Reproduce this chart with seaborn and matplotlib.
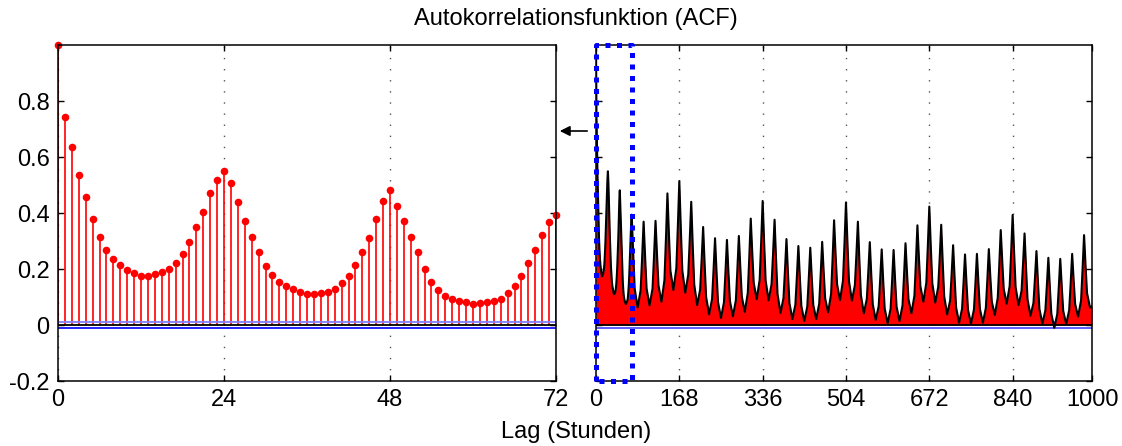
import numpy as np
import pandas as pd
import matplotlib
matplotlib.use("Agg")
import matplotlib.pyplot as plt
import seaborn as sns

# ---------------- data ----------------
title_text = "Autokorrelationsfunktion (ACF)"
xlabel_text = "Lag (Stunden)"

# ACF at hourly lags 0..72 (left panel, stem plot)
lags_short = list(range(73))
acf_short = [1.000, 0.742, 0.635, 0.537, 0.458, 0.377, 0.313, 0.269, 0.236, 0.214,
             0.198, 0.186, 0.174, 0.175, 0.183, 0.188, 0.199, 0.221, 0.254, 0.296,
             0.350, 0.403, 0.470, 0.518, 0.549, 0.508, 0.440, 0.372, 0.313, 0.262,
             0.212, 0.180, 0.155, 0.139, 0.129, 0.119, 0.110, 0.111, 0.113, 0.119,
             0.129, 0.149, 0.176, 0.214, 0.261, 0.312, 0.379, 0.443, 0.481, 0.426,
             0.371, 0.315, 0.260, 0.199, 0.155, 0.126, 0.104, 0.093, 0.086, 0.081,
             0.075, 0.079, 0.081, 0.086, 0.093, 0.113, 0.139, 0.175, 0.220, 0.268,
             0.320, 0.367, 0.394]

# ACF beyond lag 72 (right panel, continuous curve) read at peaks, flanks and troughs
lags_long = [75, 78, 84,
             90, 93, 96, 99, 102, 108,
             114, 117, 120, 123, 126, 132,
             138, 141, 144, 147, 150, 156,
             162, 165, 168, 171, 174, 180,
             186, 189, 192, 195, 198, 204,
             210, 213, 216, 219, 222, 228,
             234, 237, 240, 243, 246, 252,
             258, 261, 264, 267, 270, 276,
             282, 285, 288, 291, 294, 300,
             306, 309, 312, 315, 318, 324,
             330, 333, 336, 339, 342, 348,
             354, 357, 360, 363, 366, 372,
             378, 381, 384, 387, 390, 396,
             402, 405, 408, 411, 414, 420,
             426, 429, 432, 435, 438, 444,
             450, 453, 456, 459, 462, 468,
             474, 477, 480, 483, 486, 492,
             498, 501, 504, 507, 510, 516,
             522, 525, 528, 531, 534, 540,
             546, 549, 552, 555, 558, 564,
             570, 573, 576, 579, 582, 588,
             594, 597, 600, 603, 606, 612,
             618, 621, 624, 627, 630, 636,
             642, 645, 648, 651, 654, 660,
             666, 669, 672, 675, 678, 684,
             690, 693, 696, 699, 702, 708,
             714, 717, 720, 723, 726, 732,
             738, 741, 744, 747, 750, 756,
             762, 765, 768, 771, 774, 780,
             786, 789, 792, 795, 798, 804,
             810, 813, 816, 819, 822, 828,
             834, 837, 840, 843, 846, 852,
             858, 861, 864, 867, 870, 876,
             882, 885, 888, 891, 894, 900,
             906, 909, 912, 915, 918, 924,
             930, 933, 936, 939, 942, 948,
             954, 957, 960, 963, 966, 972,
             978, 981, 984, 987, 990, 996,
             1000]
acf_long = [0.255, 0.129, 0.063,
            0.124, 0.240, 0.369, 0.243, 0.130, 0.070,
            0.130, 0.245, 0.372, 0.251, 0.141, 0.083,
            0.160, 0.307, 0.470, 0.325, 0.194, 0.125,
            0.203, 0.351, 0.514, 0.346, 0.195, 0.115,
            0.180, 0.304, 0.440, 0.285, 0.145, 0.071,
            0.127, 0.233, 0.350, 0.219, 0.100, 0.038,
            0.092, 0.196, 0.310, 0.190, 0.082, 0.025,
            0.081, 0.187, 0.304, 0.189, 0.086, 0.031,
            0.088, 0.197, 0.318, 0.204, 0.101, 0.047,
            0.114, 0.240, 0.380, 0.259, 0.150, 0.092,
            0.162, 0.296, 0.443, 0.294, 0.159, 0.088,
            0.146, 0.255, 0.376, 0.236, 0.110, 0.043,
            0.096, 0.196, 0.307, 0.187, 0.078, 0.021,
            0.073, 0.172, 0.282, 0.169, 0.068, 0.014,
            0.066, 0.166, 0.276, 0.169, 0.072, 0.021,
            0.076, 0.181, 0.297, 0.191, 0.095, 0.045,
            0.111, 0.236, 0.374, 0.254, 0.146, 0.089,
            0.159, 0.291, 0.438, 0.291, 0.157, 0.087,
            0.143, 0.251, 0.369, 0.232, 0.107, 0.042,
            0.093, 0.189, 0.296, 0.179, 0.074, 0.018,
            0.068, 0.164, 0.270, 0.159, 0.059, 0.006,
            0.058, 0.158, 0.268, 0.161, 0.065, 0.014,
            0.070, 0.175, 0.292, 0.187, 0.092, 0.042,
            0.105, 0.224, 0.356, 0.241, 0.138, 0.083,
            0.151, 0.280, 0.423, 0.279, 0.149, 0.080,
            0.136, 0.241, 0.358, 0.224, 0.102, 0.038,
            0.087, 0.181, 0.285, 0.169, 0.063, 0.008,
            0.057, 0.150, 0.252, 0.148, 0.054, 0.005,
            0.055, 0.149, 0.254, 0.151, 0.057, 0.008,
            0.061, 0.161, 0.271, 0.172, 0.083, 0.036,
            0.097, 0.212, 0.339, 0.229, 0.129, 0.076,
            0.139, 0.260, 0.393, 0.258, 0.135, 0.071,
            0.122, 0.219, 0.327, 0.204, 0.092, 0.033,
            0.079, 0.167, 0.264, 0.155, 0.057, 0.005,
            0.052, 0.141, 0.240, 0.135, 0.040, -0.010,
            0.039, 0.133, 0.236, 0.138, 0.050, 0.003,
            0.053, 0.149, 0.254, 0.160, 0.075, 0.030,
            0.088, 0.199, 0.321, 0.212, 0.114, 0.062,
            0.068]

conf_bound = 0.010   # approx. 95% confidence band

left_xticks = [0, 24, 48, 72]
right_xticks = [0, 168, 336, 504, 672, 840, 1000]
yticks = [-0.2, 0.0, 0.2, 0.4, 0.6, 0.8]
ytick_labels = ["-0.2", "0", "0.2", "0.4", "0.6", "0.8"]

# ---------------- style ----------------
sns.set_style("ticks")
plt.rcParams["font.family"] = ["Liberation Sans", "DejaVu Sans"]
plt.rcParams["axes.linewidth"] = 1.1
plt.rcParams["axes.edgecolor"] = "black"
plt.rcParams["text.color"] = "black"
plt.rcParams["xtick.color"] = "black"
plt.rcParams["ytick.color"] = "black"

FS = 17
W, H = 1122, 446
fig = plt.figure(figsize=(W / 100, H / 100), dpi=100)
axL = fig.add_axes([58 / W, 65 / H, 498 / W, 336 / H])
axR = fig.add_axes([596 / W, 65 / H, 496 / W, 336 / H])

grid_kw = dict(linestyle=(0, (1, 7)), color="#555555", linewidth=1.0)

# ---------------- left panel: stems ----------------
df_s = pd.DataFrame({"lag": lags_short, "acf": acf_short})
stem_colors = ["red"] * len(df_s)
stem_colors[0] = "#a00000"
stem_colors[-1] = "#a00000"
axL.vlines(df_s["lag"], 0, df_s["acf"], colors=stem_colors, linewidth=1.2, zorder=2)
sns.scatterplot(data=df_s, x="lag", y="acf", ax=axL, color="red", s=30,
                linewidth=0, zorder=4, clip_on=False, legend=False)
axL.axhline(conf_bound, color="#8080ff", linewidth=1.3, zorder=3)
axL.axhline(0, color="black", linewidth=1.3, zorder=3)
axL.axhline(-conf_bound, color="#1010ff", linewidth=1.3, zorder=3)

axL.set_xlim(lags_short[0], lags_short[-1])
axL.set_ylim(-0.2, 1.0)
axL.set_xticks(left_xticks)
axL.set_xticklabels([str(t) for t in left_xticks])
axL.set_yticks(yticks)
axL.set_yticklabels(ytick_labels)
axL.xaxis.grid(True, **grid_kw)
axL.set_xlabel("")
axL.set_ylabel("")

# ---------------- right panel: filled curve ----------------
df_l = pd.DataFrame({"lag": lags_short + lags_long, "acf": acf_short + acf_long})
axR.fill_between(df_l["lag"], 0, df_l["acf"], color="red", linewidth=0, zorder=2)
sns.lineplot(data=df_l, x="lag", y="acf", ax=axR, color="black", linewidth=1.5,
             estimator=None, sort=False, zorder=3)
axR.axhline(conf_bound, color="#8080ff", linewidth=1.3, zorder=1.5)
axR.axhline(0, color="black", linewidth=1.3, zorder=2.5)
axR.axhline(-conf_bound, color="#5050ff", linewidth=1.3, zorder=2.5)

axR.set_xlim(right_xticks[0], right_xticks[-1])
axR.set_ylim(-0.2, 1.0)
axR.set_xticks(right_xticks)
axR.set_xticklabels([str(t) for t in right_xticks])
axR.set_yticks(yticks)
axR.set_yticklabels([""] * len(yticks))
axR.xaxis.grid(True, **grid_kw)
axR.set_xlabel("")
axR.set_ylabel("")

# zoom rectangle marking the lag range shown on the left
x0, x1 = lags_short[0], lags_short[-1]
y0, y1 = axR.get_ylim()
axR.plot([x0, x0, x1, x1, x0], [y0, y1, y1, y0, y0], color="blue", linewidth=3.6,
         linestyle=(0, (1, 1.3)), dash_capstyle="butt", clip_on=False, zorder=6)

for ax in (axL, axR):
    ax.tick_params(direction="in", top=True, right=True, length=4, width=1.0,
                   labelsize=FS, pad=6, colors="black")
    for s in ax.spines.values():
        s.set_visible(True)
        s.set_zorder(5)

# arrow pointing from the zoom box to the left panel
fig.add_artist(matplotlib.patches.FancyArrowPatch(
    (590 / W, 1 - 131 / H), (557 / W, 1 - 131 / H), transform=fig.transFigure,
    arrowstyle="-|>", mutation_scale=15, color="black", linewidth=1.2))

fig.text(576 / W, 1 - 19 / H, title_text, ha="center", va="center", fontsize=FS,
         color="black")
fig.text(576 / W, 1 - 432 / H, xlabel_text, ha="center", va="center", fontsize=FS,
         color="black")

fig.savefig("out.png", dpi=100)
